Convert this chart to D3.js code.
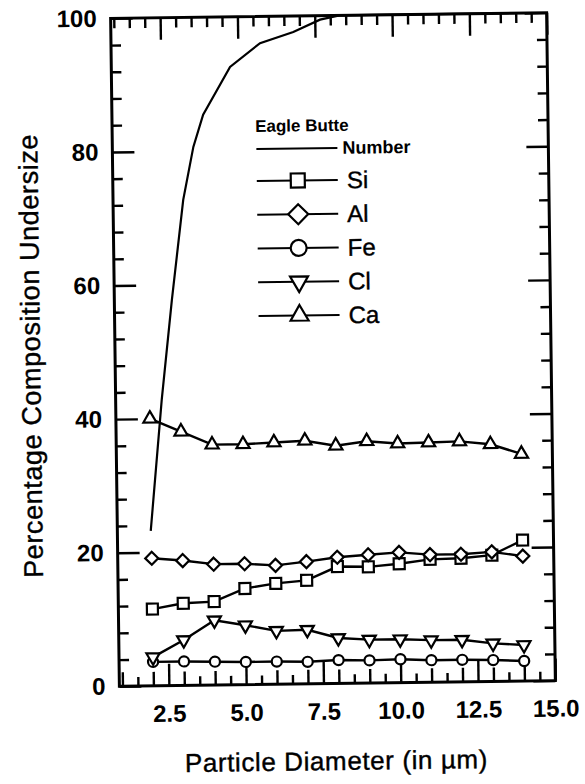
<!DOCTYPE html>
<html>
<head>
<meta charset="utf-8">
<script src="https://cdn.jsdelivr.net/npm/d3@7"></script>
<style>
  html, body { margin: 0; padding: 0; background: #fff; }
  svg { display: block; font-family: "Liberation Sans", Arial, Helvetica, sans-serif; }
</style>
</head>
<body>
<script>
// particle diameter (um) of each sampled point
const diameters = [2, 3, 4, 5, 6, 7, 8, 9, 10, 11, 12, 13, 14];
const si = [11.5, 12.3, 12.5, 14.4, 15.1, 15.5, 17.5, 17.4, 17.8, 18.4, 18.5, 18.9, 21.1];
const al = [19.1, 18.7, 18.1, 18.1, 17.8, 18.3, 18.9, 19.2, 19.5, 19.1, 19.1, 19.4, 18.7];
const fe = [3.6, 3.6, 3.5, 3.4, 3.4, 3.3, 3.5, 3.4, 3.5, 3.3, 3.3, 3.2, 3.0];
const cl = [4.3, 6.8, 9.7, 8.9, 8.0, 8.1, 6.8, 6.5, 6.5, 6.3, 6.3, 5.7, 5.4];
const ca = [40.0, 38.0, 36.0, 36.0, 36.2, 36.4, 35.6, 36.2, 35.8, 35.9, 36.0, 35.5, 34.0];

// cumulative number curve
const numberX = [1.98, 2.39, 2.76, 3.17, 3.52, 3.85, 4.74, 5.72, 6.8, 7.67, 8.3, 14.0];
const numberY = [23.2, 42.8, 57.7, 72.7, 80.6, 85.4, 92.5, 96.0, 97.6, 99.4, 100, 100];

const elements = ['Si', 'Al', 'Fe', 'Cl', 'Ca'];
const xTicks = [2.5, 5.0, 7.5, 10.0, 12.5, 15.0];
const yTicks = [0, 20, 40, 60, 80, 100];

(function () {
  const width = 585;
  const height = 784;
  const box = { left: 115, right: 551, top: 15.5, bottom: 683.5 };

  const svg = d3.select('body').append('svg')
    .attr('width', width)
    .attr('height', height);

  // the printed figure sits slightly askew on the page
  const g = svg.append('g')
    .attr('transform', 'rotate(-0.75 333 349.5)');

  const x = d3.scaleLinear().domain([0.9, 15]).range([box.left, box.right]);
  const y = d3.scaleLinear().domain([0, 100]).range([box.bottom, box.top]);

  const halfSteps = d3.range(1.0, 15, 0.5).filter(v => xTicks.indexOf(v) === -1);
  const xMinor = halfSteps.filter(v => v % 1 !== 0);
  const xInt = halfSteps.filter(v => v % 1 === 0);
  const yMinor = d3.range(4, 100, 4).filter(v => v % 20 !== 0);

  function styleAxis(sel) {
    sel.select('.domain').remove();
    sel.selectAll('line').attr('stroke', '#000').attr('stroke-width', 2.4);
    sel.selectAll('text')
      .attr('fill', '#000')
      .attr('font-size', 24)
      .attr('font-weight', 'bold');
  }

  // bottom
  g.append('g').attr('transform', `translate(0,${box.bottom})`)
    .call(d3.axisBottom(x).tickValues(xMinor).tickSize(-9).tickFormat(''))
    .call(styleAxis);
  g.append('g').attr('transform', `translate(0,${box.bottom})`)
    .call(d3.axisBottom(x).tickValues(xInt).tickSize(-14).tickFormat(''))
    .call(styleAxis);
  g.append('g').attr('transform', `translate(0,${box.bottom})`)
    .call(d3.axisBottom(x).tickValues(xTicks).tickSize(-22).tickPadding(19)
      .tickFormat(d3.format('.1f')))
    .call(styleAxis);

  // top
  g.append('g').attr('transform', `translate(0,${box.top})`)
    .call(d3.axisTop(x).tickValues(halfSteps).tickSize(-10).tickFormat(''))
    .call(styleAxis);
  g.append('g').attr('transform', `translate(0,${box.top})`)
    .call(d3.axisTop(x).tickValues(xTicks).tickSize(-22).tickFormat(''))
    .call(styleAxis);

  // left
  g.append('g').attr('transform', `translate(${box.left},0)`)
    .call(d3.axisLeft(y).tickValues(yMinor).tickSize(-10).tickFormat(''))
    .call(styleAxis);
  g.append('g').attr('transform', `translate(${box.left},0)`)
    .call(d3.axisLeft(y).tickValues(yTicks).tickSize(-22).tickPadding(14)
      .tickFormat(d3.format('d')))
    .call(styleAxis);

  // right
  g.append('g').attr('transform', `translate(${box.right},0)`)
    .call(d3.axisRight(y).tickValues(yMinor).tickSize(-10).tickFormat(''))
    .call(styleAxis);
  g.append('g').attr('transform', `translate(${box.right},0)`)
    .call(d3.axisRight(y).tickValues(yTicks).tickSize(-22).tickFormat(''))
    .call(styleAxis);

  g.append('rect')
    .attr('x', box.left)
    .attr('y', box.top)
    .attr('width', box.right - box.left)
    .attr('height', box.bottom - box.top)
    .attr('fill', 'none')
    .attr('stroke', '#000')
    .attr('stroke-width', 3);

  // axis titles
  g.append('text')
    .attr('x', 331)
    .attr('y', 770)
    .attr('text-anchor', 'middle')
    .attr('font-size', 26)
    .attr('letter-spacing', 0.6)
    .attr('stroke', '#000')
    .attr('stroke-width', 0.4)
    .text('Particle Diameter (in \u00b5m)');

  g.append('text')
    .attr('transform', 'translate(40,352) rotate(-90)')
    .attr('text-anchor', 'middle')
    .attr('font-size', 27)
    .attr('letter-spacing', 0.6)
    .attr('stroke', '#000')
    .attr('stroke-width', 0.4)
    .text('Percentage Composition Undersize');

  // number curve
  const line = d3.line()
    .x(d => x(d[0]))
    .y(d => y(d[1]));

  g.append('path')
    .datum(d3.zip(numberX, numberY))
    .attr('d', line)
    .attr('fill', 'none')
    .attr('stroke', '#000')
    .attr('stroke-width', 2.2);

  const diamond = d3.symbolDiamond2 || d3.symbolDiamond;
  const series = [
    { name: 'Si', values: si, type: d3.symbolSquare, size: 121, big: 196, rot: 0 },
    { name: 'Al', values: al, type: diamond, size: 108, big: 255, rot: 0 },
    { name: 'Fe', values: fe, type: d3.symbolCircle, size: 80, big: 200, rot: 0 },
    { name: 'Cl', values: cl, type: d3.symbolTriangle, size: 75, big: 140, rot: 180 },
    { name: 'Ca', values: ca, type: d3.symbolTriangle, size: 75, big: 140, rot: 0 },
  ];

  series.forEach(s => {
    const pts = d3.zip(diameters, s.values);
    g.append('path')
      .datum(pts)
      .attr('d', line)
      .attr('fill', 'none')
      .attr('stroke', '#000')
      .attr('stroke-width', 2.4);

    g.append('g')
      .selectAll('path')
      .data(pts)
      .enter()
      .append('path')
      .attr('transform', d => `translate(${x(d[0])},${y(d[1])}) rotate(${s.rot})`)
      .attr('d', d3.symbol().type(s.type).size(s.size))
      .attr('fill', '#fff')
      .attr('stroke', '#000')
      .attr('stroke-width', 2.2);
  });

  // legend
  const legend = g.append('g');
  legend.append('text')
    .attr('x', 258)
    .attr('y', 131)
    .attr('font-size', 17)
    .attr('font-weight', 'bold')
    .text('Eagle Butte');

  legend.append('line')
    .attr('x1', 259).attr('x2', 340)
    .attr('y1', 148).attr('y2', 148)
    .attr('stroke', '#000')
    .attr('stroke-width', 2);
  legend.append('text')
    .attr('x', 345)
    .attr('y', 154)
    .attr('font-size', 18)
    .attr('font-weight', 'bold')
    .text('Number');

  const rowY = d3.scaleLinear().domain([0, 4]).range([180, 315]);

  series.forEach((s, i) => {
    const ry = rowY(i);
    legend.append('line')
      .attr('x1', 259).attr('x2', 340)
      .attr('y1', ry).attr('y2', ry)
      .attr('stroke', '#000')
      .attr('stroke-width', 2);
    legend.append('path')
      .attr('transform', `translate(300,${ry}) rotate(${s.rot})`)
      .attr('d', d3.symbol().type(s.type).size(s.big))
      .attr('fill', '#fff')
      .attr('stroke', '#000')
      .attr('stroke-width', 2.2);
    legend.append('text')
      .attr('x', 349)
      .attr('y', ry + 8.5)
      .attr('font-size', 24)
      .attr('stroke', '#000')
      .attr('stroke-width', 0.4)
      .text(elements[i]);
  });
})();
</script>
</body>
</html>
